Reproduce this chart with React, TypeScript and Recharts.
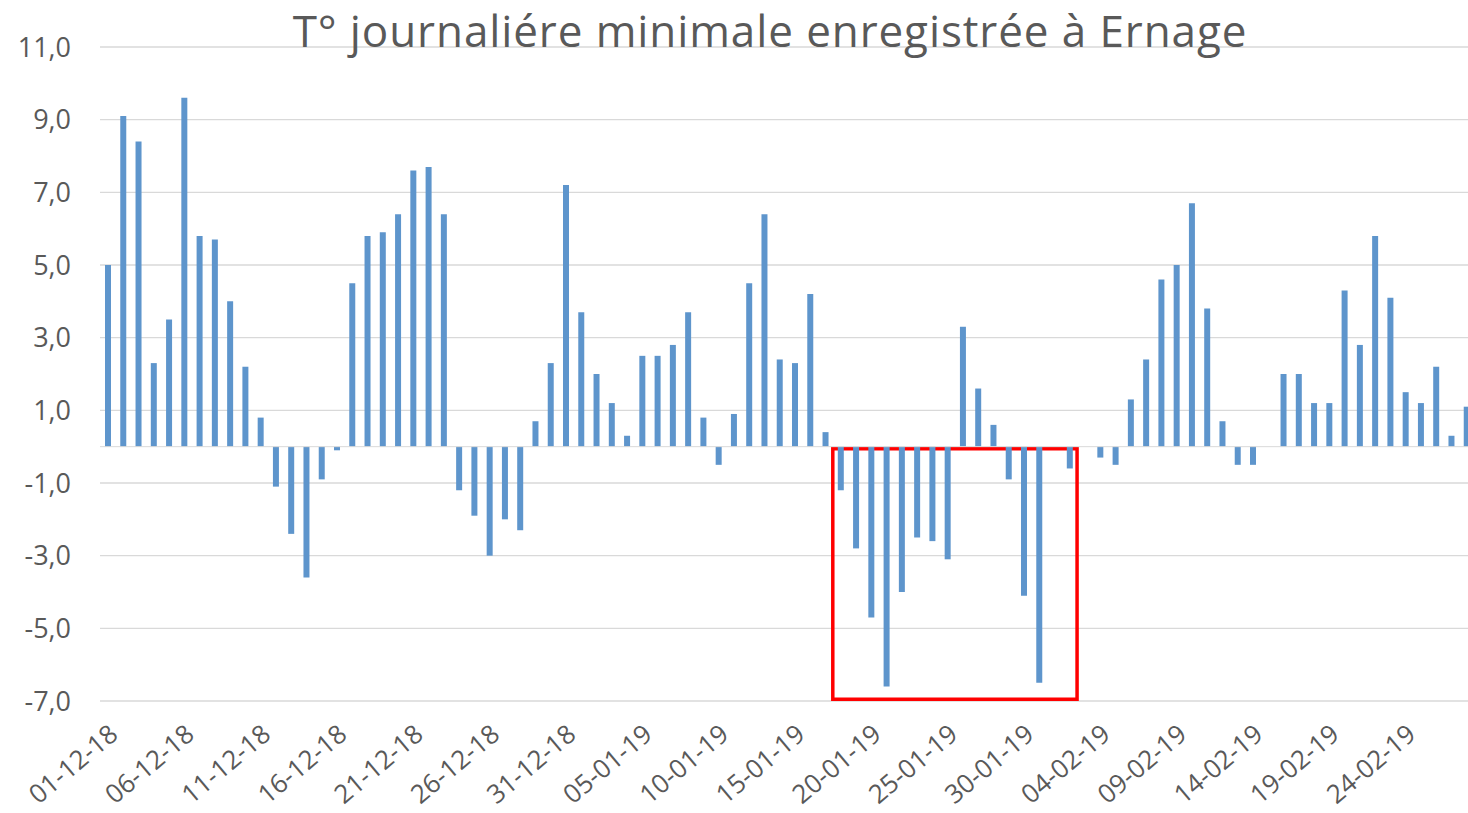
import { BarChart, Bar, XAxis, YAxis, CartesianGrid, ReferenceLine, ReferenceArea } from 'recharts';

const COLORS = {
  bar: "#5e95cc",
  grid: "#d9d9d9",
  text: "#595959",
  box: "#ff0000"
}

// one reading per day, 01-12-18 .. 28-02-19
const months = [
  { suffix: "12-18", days: 31 },
  { suffix: "01-19", days: 31 },
  { suffix: "02-19", days: 28 },
];
const dates: string[] = months.flatMap(m =>
  Array.from({ length: m.days }, (_, i) => `${String(i + 1).padStart(2, "0")}-${m.suffix}`)
);

const tMinDec = [
  5.0, 9.1, 8.4, 2.3, 3.5, 9.6, 5.8, 5.7, 4.0, 2.2, 0.8, -1.1, -2.4, -3.6, -0.9, -0.1,
  4.5, 5.8, 5.9, 6.4, 7.6, 7.7, 6.4, -1.2, -1.9, -3.0, -2.0, -2.3, 0.7, 2.3, 7.2,
];
const tMinJan = [
  3.7, 2.0, 1.2, 0.3, 2.5, 2.5, 2.8, 3.7, 0.8, -0.5, 0.9, 4.5, 6.4, 2.4, 2.3, 4.2,
  0.4, -1.2, -2.8, -4.7, -6.6, -4.0, -2.5, -2.6, -3.1, 3.3, 1.6, 0.6, -0.9, -4.1, -6.5,
];
const tMinFeb = [
  0, -0.6, 0, -0.3, -0.5, 1.3, 2.4, 4.6, 5.0, 6.7, 3.8, 0.7, -0.5, -0.5, 0,
  2.0, 2.0, 1.2, 1.2, 4.3, 2.8, 5.8, 4.1, 1.5, 1.2, 2.2, 0.3, 1.1,
];
const yTicks = [-7, -5, -3, -1, 1, 3, 5, 7, 9, 11];

const values = [...tMinDec, ...tMinJan, ...tMinFeb];
const data = dates.map((d, i) => ({ date: d, tmin: values[i] }));

const fmt = (v: number) => v.toFixed(1).replace(".", ",");

const DateTick = (props: any) => {
  const { x, y, payload } = props;
  return (
    <g transform={`translate(${x + 12},${y + 28})`}>
      <text x={0} y={0} textAnchor="end" transform="rotate(-40)" fill={COLORS.text}
        fontSize={26} fontFamily="'Open Sans', sans-serif">
        {payload.value}
      </text>
    </g>
  );
};

export default function App() {
  return (
    <div style={{ position: "absolute", left: 0, top: 0, width: 1468, height: 813, background: "#fff" }}>
      <div style={{
        position: "absolute", left: 270, top: 0, width: 1000, textAlign: "center",
        fontFamily: "'Open Sans', sans-serif", fontSize: 44, letterSpacing: "0.9px",
        color: COLORS.text, lineHeight: "60px", zIndex: 2
      }}>
        T° journaliére minimale enregistrée à Ernage
      </div>
      <BarChart width={1468} height={813} data={data}
        margin={{ top: 47, right: -6, left: 0, bottom: 0 }} barCategoryGap={0}>
        <CartesianGrid vertical={false} stroke={COLORS.grid} strokeWidth={1.3} />
        <XAxis dataKey="date" interval={4} height={112} axisLine={false} tickLine={false}
          tick={<DateTick />} />
        <YAxis domain={[-7, 11]} ticks={yTicks} width={100} axisLine={false} tickLine={false}
          tickMargin={23} tickFormatter={fmt}
          tick={{ fill: COLORS.text, fontSize: 27, fontFamily: "'Open Sans', sans-serif" }} />
        <ReferenceLine y={0} stroke={COLORS.grid} strokeWidth={1} />
        <Bar dataKey="tmin" fill={COLORS.bar} barSize={6} isAnimationActive={false} />
        <ReferenceArea x1="18-01-19" x2="02-02-19" y1={-6.95} y2={-0.06} fill="none"
          stroke={COLORS.box} strokeWidth={3.5} ifOverflow="visible" />
      </BarChart>
    </div>
  );
}
